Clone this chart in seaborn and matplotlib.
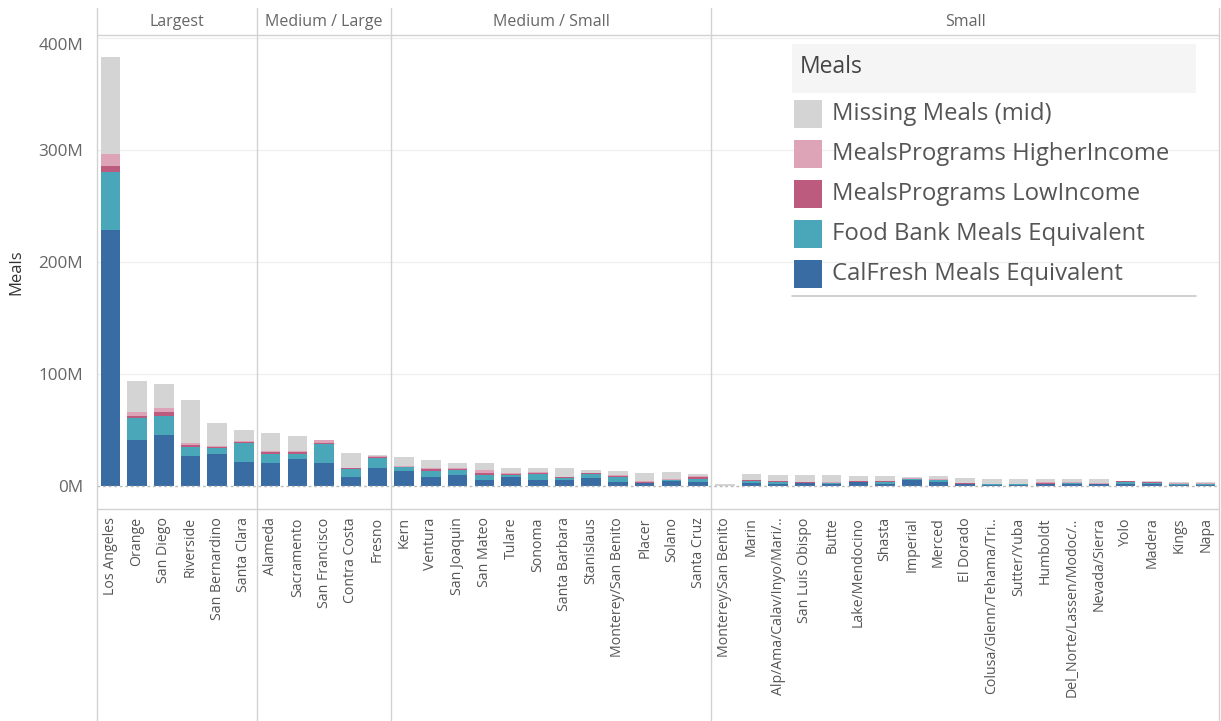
import numpy as np
import pandas as pd
import matplotlib
matplotlib.use("Agg")
import matplotlib.pyplot as plt
from matplotlib.lines import Line2D
from matplotlib.patches import Rectangle
import seaborn as sns

# ---- data (millions of meals) ----
counties = [
    "Los Angeles", "Orange", "San Diego", "Riverside", "San Bernardino", "Santa Clara",
    "Alameda", "Sacramento", "San Francisco", "Contra Costa", "Fresno",
    "Kern", "Ventura", "San Joaquin", "San Mateo", "Tulare", "Sonoma", "Santa Barbara",
    "Stanislaus", "Monterey/San Benito", "Placer", "Solano", "Santa Cruz",
    "Monterey/San Benito", "Marin", "Alp/Ama/Calav/Inyo/Mari/..", "San Luis Obispo", "Butte",
    "Lake/Mendocino", "Shasta", "Imperial", "Merced", "El Dorado", "Colusa/Glenn/Tehama/Tri..",
    "Sutter/Yuba", "Humboldt", "Del_Norte/Lassen/Modoc/..", "Nevada/Sierra", "Yolo", "Madera",
    "Kings", "Napa",
]
groups = ["Largest", "Medium / Large", "Medium / Small", "Small"]
group_counts = [6, 5, 12, 19]

calfresh = [229, 41, 45.5, 26.8, 29, 21.7,
            20.8, 24.4, 20.8, 8.3, 15.8,
            13.7, 8.3, 9.8, 5.4, 8.3, 5.4, 5.4, 7.4, 3.9, 2.4, 4.5, 3.9,
            0.1, 2.7, 2.1, 2.4, 2.2, 3.6, 2.1, 5.1, 3.9, 1.8, 1.2, 1.3, 1.8, 1.5, 1.5, 2.1, 2.1, 1.2, 1.2]
food_bank = [51, 20, 17, 8.3, 4.6, 16.4,
             7.8, 4.5, 16.4, 7.2, 9.5,
             3.0, 4.8, 4.5, 4.1, 1.5, 5.3, 2.0, 3.3, 4.4, 0.6, 0.9, 2.1,
             0.1, 2.1, 1.8, 0.4, 0.3, 0.3, 1.9, 0.9, 1.2, 0.3, 0.3, 0.3, 0.2, 0.9, 0.4, 1.8, 0.3, 0.3, 0.3]
low_income = [6, 1.3, 3.5, 1.5, 1.0, 1.5,
              1.4, 1.1, 0.9, 0.4, 0.6,
              0.5, 1.8, 0.6, 1.8, 0.8, 0.8, 0.5, 0.5, 0.6, 0.7, 0.4, 1.7,
              0.0, 0.4, 0.4, 0.4, 0.4, 0.4, 0.4, 0.6, 0.4, 0.3, 0.3, 0.2, 0.7, 0.5, 0.3, 0.2, 0.9, 0.4, 0.4]
higher_income = [10, 3.5, 3.6, 1.5, 1.5, 0.9,
                 1.0, 1.0, 2.7, 0.5, 0.5,
                 0.7, 0.9, 0.9, 2.9, 0.7, 0.7, 0.4, 0.4, 0.6, 0.8, 0.5, 0.9,
                 0.0, 0.5, 0.5, 0.4, 0.4, 0.5, 0.4, 0.6, 0.5, 0.3, 0.3, 0.3, 0.9, 1.0, 0.5, 0.2, 0.6, 0.5, 0.4]
missing = [87, 27.7, 21.4, 38.8, 20.5, 9.8,
           16, 13.6, 0.0, 12.8, 1.0,
           7.7, 7.4, 5.0, 6.6, 4.5, 3.6, 7.5, 2.7, 3.9, 7.4, 5.9, 2.1,
           1.3, 5.4, 5.0, 6.2, 6.5, 3.9, 3.9, 0.8, 2.7, 4.4, 3.9, 3.9, 2.4, 2.1, 3.3, 0.3, 0.6, 0.9, 1.0]

series_names = ["CalFresh Meals Equivalent", "Food Bank Meals Equivalent",
                "MealsPrograms LowIncome", "MealsPrograms HigherIncome", "Missing Meals (mid)"]
series_values = [calfresh, food_bank, low_income, higher_income, missing]
series_colors = ["#3A6CA4", "#4AA6B9", "#BC5B7E", "#DDA4B8", "#D4D4D4"]

# long table with stacked tops
n = len(counties)
rows = []
for name, vals in zip(series_names, series_values):
    for i, v in enumerate(vals):
        rows.append({"pos": i, "series": name, "value": v})
df = pd.DataFrame(rows)
df["top"] = df.groupby("pos")["value"].cumsum()

# ---- styling ----
sns.set_style("white")
plt.rcParams["font.family"] = ["Open Sans", "DejaVu Sans"]
W, H = 1221, 721
fig = plt.figure(figsize=(W / 100, H / 100), dpi=100)

def fx(x):
    return x / W

def fy(y):
    return 1 - y / H

left_px, right_px, top_px, bot_px = 97, 1219, 35, 509
ax = fig.add_axes([fx(left_px), fy(bot_px), fx(right_px - left_px), (bot_px - top_px) / H])

# stacked bars: draw cumulative tops from the top segment down
for name, color in reversed(list(zip(series_names, series_colors))):
    sub = df[df["series"] == name]
    sns.barplot(data=sub, x="pos", y="top", order=list(range(n)), color=color,
                width=0.73, errorbar=None, saturation=1, linewidth=0,
                edgecolor="none", ax=ax, zorder=3)

ymin = (486 - bot_px) / 1.12
ymax = (486 - top_px) / 1.12
ax.set_ylim(ymin, ymax)
ax.set_xlim(-0.5, n - 0.5)

yt = [0, 100, 200, 300, 400]
ax.set_yticks(yt)
ax.set_yticklabels([f"{v}M" for v in yt], fontsize=12.3, color="#666666")
ax.get_yticklabels()[-1].set_va("top")
for v in yt[1:]:
    ax.axhline(v, color="#F0F0F0", lw=1, zorder=0)
ax.axhline(0, color="#BBBBBB", lw=1, ls=(0, (2, 2)), zorder=4)

ax.set_xticks(range(n))
ax.set_xticklabels(counties, rotation=90, va="top", ha="center", fontsize=10.2, color="#555555")
ax.set_xticks(np.arange(n - 1) + 0.5, minor=True)
ax.tick_params(axis="x", which="major", length=0, pad=6)
ax.tick_params(axis="x", which="minor", length=4, color="#E6E6E6", width=0.8)
ax.tick_params(axis="y", length=6, color="#E0E0E0", width=0.8, pad=4)
ax.set_xlabel("")
ax.set_ylabel("Meals", fontsize=12, color="#333333", labelpad=10)
for s in ax.spines.values():
    s.set_visible(False)

# group headers
bounds = np.concatenate([[0], np.cumsum(group_counts)])
slot = (right_px - left_px) / n
for g, a, b in zip(groups, bounds[:-1], bounds[1:]):
    xc = left_px + slot * (a + b) / 2
    fig.text(fx(xc), fy(22), g, ha="center", va="center", fontsize=11.5, color="#666666")

# frame and panel separators
line_kw = dict(color="#D2D2D2", lw=1, transform=fig.transFigure)
for b in bounds:
    xp = left_px + slot * b
    fig.add_artist(Line2D([fx(xp), fx(xp)], [fy(8), fy(721)], **line_kw))
for yp in (top_px, bot_px):
    fig.add_artist(Line2D([fx(left_px), fx(right_px)], [fy(yp), fy(yp)], **line_kw))

# legend
lx0, lx1 = 792, 1196
fig.add_artist(Rectangle((fx(lx0), fy(93)), fx(lx1 - lx0), (93 - 44) / H,
                         transform=fig.transFigure, facecolor="#F5F5F5", edgecolor="none"))
fig.text(fx(800), fy(67), "Meals", ha="left", va="center", fontsize=16.5, color="#444444")
legend_rows = list(zip(reversed(series_names), reversed(series_colors)))
for k, (name, color) in enumerate(legend_rows):
    yc = 114 + 40 * k
    fig.add_artist(Rectangle((fx(794), fy(yc + 14)), fx(28), 28 / H,
                             transform=fig.transFigure, facecolor=color, edgecolor="none"))
    fig.text(fx(832), fy(yc), name, ha="left", va="center", fontsize=17.2, color="#555555")
fig.add_artist(Line2D([fx(lx0), fx(lx1)], [fy(296), fy(296)], color="#C8C8C8", lw=1.2,
                      transform=fig.transFigure))

fig.savefig("out.png", dpi=100, facecolor="white")
